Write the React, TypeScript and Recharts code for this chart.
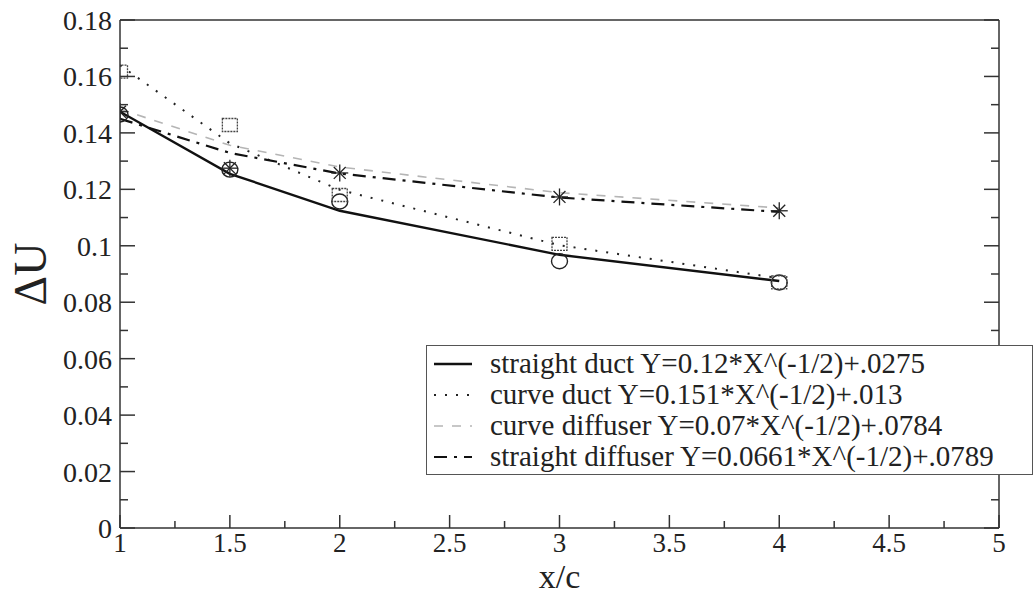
import React from 'react';
import { ComposedChart, Line, Scatter, XAxis, YAxis, Legend } from 'recharts';

// x/c stations
const stations = [1, 1.5, 2, 3, 4];

// fitted curves
const straightDuctFit = [0.1475, 0.1255, 0.1124, 0.0968, 0.0875];
const curveDuctFit = [0.164, 0.1363, 0.1198, 0.1002, 0.0885];
const curveDiffuserFit = [0.1484, 0.1356, 0.1279, 0.1188, 0.1134];
const straightDiffuserFit = [0.145, 0.1329, 0.1256, 0.1171, 0.112];

// measured points
const straightDuctPoints = [0.1465, 0.127, 0.1157, 0.0945, 0.087];
const curveDuctPoints = [0.1617, 0.1428, 0.118, 0.1007, 0.087];
const straightDiffuserPoints = [0.1475, 0.1275, 0.1258, 0.1173, 0.1124];

const seriesNames = [
  'straight duct Y=0.12*X^(-1/2)+.0275',
  'curve duct Y=0.151*X^(-1/2)+.013',
  'curve diffuser Y=0.07*X^(-1/2)+.0784',
  'straight diffuser Y=0.0661*X^(-1/2)+.0789',
];

const xTicks = [1, 1.25, 1.5, 1.75, 2, 2.25, 2.5, 2.75, 3, 3.25, 3.5, 3.75, 4, 4.25, 4.5, 4.75, 5];
const xMajor = [1, 1.5, 2, 2.5, 3, 3.5, 4, 4.5, 5];
const yTicks = [0, 0.01, 0.02, 0.03, 0.04, 0.05, 0.06, 0.07, 0.08, 0.09, 0.1, 0.11, 0.12, 0.13, 0.14, 0.15, 0.16, 0.17, 0.18];
const yMajor = [0, 0.02, 0.04, 0.06, 0.08, 0.1, 0.12, 0.14, 0.16, 0.18];

const SERIF = '"Liberation Serif", "Times New Roman", "DejaVu Serif", serif';
const AXIS = '#333';

const lineStyles = [
  { stroke: '#111', strokeWidth: 2.4, dash: undefined as string | undefined },
  { stroke: '#222', strokeWidth: 2, dash: '2 9' },
  { stroke: '#b5b5b5', strokeWidth: 1.6, dash: '9 9' },
  { stroke: '#111', strokeWidth: 2.2, dash: '13 7 3 7' },
];

const toXY = (ys: number[]) => stations.map((x, i) => ({ x, y: ys[i] }));

const BottomTick = (props: any) => {
  const { x, y, payload } = props;
  const major = xMajor.includes(payload.value);
  return (
    <g>
      <line x1={x} x2={x} y1={y} y2={y - (major ? 13 : 7)} stroke={AXIS} strokeWidth={1.5} />
      {major && (
        <text x={x} y={y + 24} textAnchor="middle" fontSize={27} fontFamily={SERIF} fill="#222">
          {payload.value}
        </text>
      )}
    </g>
  );
};

const TopTick = (props: any) => {
  const { x, y, payload } = props;
  const major = xMajor.includes(payload.value);
  return <line x1={x} x2={x} y1={y} y2={y + (major ? 15 : 8)} stroke={AXIS} strokeWidth={1.5} />;
};

const LeftTick = (props: any) => {
  const { x, y, payload } = props;
  const major = yMajor.includes(payload.value);
  return (
    <g>
      <line x1={x} x2={x + (major ? 15 : 8)} y1={y} y2={y} stroke={AXIS} strokeWidth={1.5} />
      {major && (
        <text x={x - 8} y={y + 10} textAnchor="end" fontSize={28} fontFamily={SERIF} fill="#222">
          {String(Number(payload.value.toFixed(2)))}
        </text>
      )}
    </g>
  );
};

const RightTick = (props: any) => {
  const { x, y, payload } = props;
  const major = yMajor.includes(payload.value);
  return <line x1={x} x2={x - (major ? 15 : 8)} y1={y} y2={y} stroke={AXIS} strokeWidth={1.5} />;
};

const Circle = (props: any) => (
  <ellipse cx={props.cx} cy={props.cy} rx={8} ry={7.5} fill="none" stroke="#222" strokeWidth={1.4} />
);

const Square = (props: any) => (
  <rect x={props.cx - 7.5} y={props.cy - 6.5} width={15} height={13} fill="none" stroke="#444" strokeWidth={1.3} strokeDasharray="2 1" />
);

const Star = (props: any) => {
  const { cx, cy } = props;
  const r = 8.5;
  const d = r * 0.7;
  return (
    <g stroke="#222" strokeWidth={1.3}>
      <line x1={cx - r} x2={cx + r} y1={cy} y2={cy} />
      <line x1={cx} x2={cx} y1={cy - r} y2={cy + r} />
      <line x1={cx - d} x2={cx + d} y1={cy - d} y2={cy + d} />
      <line x1={cx - d} x2={cx + d} y1={cy + d} y2={cy - d} />
    </g>
  );
};

const LegendBox = () => (
  <div
    style={{
      border: '1.5px solid #555',
      background: '#fff',
      padding: '2px 0 2px 6px',
      fontFamily: SERIF,
      fontSize: 29,
      lineHeight: 1,
      color: '#222',
      boxSizing: 'border-box',
    }}
  >
    {seriesNames.map((name, i) => {
      const s = lineStyles[i];
      return (
        <div key={name} style={{ display: 'flex', alignItems: 'center', height: 31, whiteSpace: 'nowrap' }}>
          <svg width={40} height={12} style={{ marginRight: 17, flexShrink: 0 }}>
            <line x1={1} x2={39} y1={6} y2={6} stroke={s.stroke} strokeWidth={s.strokeWidth} strokeDasharray={s.dash} />
          </svg>
          <span>{name}</span>
        </div>
      );
    })}
  </div>
);

export default function App() {
  const fits = [straightDuctFit, curveDuctFit, curveDiffuserFit, straightDiffuserFit];
  return (
    <div style={{ position: 'absolute', left: 0, top: 0, width: 1034, height: 598, background: '#fff' }}>
      <ComposedChart width={1034} height={598} margin={{ top: 10, right: 30, bottom: 0, left: 0 }}>
        <XAxis
          dataKey="x"
          type="number"
          domain={[1, 5]}
          ticks={xTicks}
          interval={0}
          tickSize={0}
          tickMargin={0}
          tick={<BottomTick />}
          height={70}
          axisLine={{ stroke: AXIS, strokeWidth: 1.5 }}
          allowDataOverflow
          label={{ value: 'x/c', position: 'insideBottom', offset: 10, style: { fontSize: 34, fontFamily: SERIF, fill: '#222' } }}
        />
        <XAxis
          xAxisId="top"
          orientation="top"
          type="number"
          domain={[1, 5]}
          ticks={xTicks}
          interval={0}
          tickSize={0}
          tickMargin={0}
          tick={<TopTick />}
          height={10}
          axisLine={{ stroke: AXIS, strokeWidth: 1.5 }}
          allowDataOverflow
        />
        <YAxis
          type="number"
          domain={[0, 0.18]}
          ticks={yTicks}
          interval={0}
          tickSize={0}
          tickMargin={0}
          tick={<LeftTick />}
          width={120}
          axisLine={{ stroke: AXIS, strokeWidth: 1.5 }}
          allowDataOverflow
          label={{
            content: ({ viewBox }: any) => (
              <text
                x={30}
                y={viewBox.y + viewBox.height / 2}
                transform={`rotate(-90 30 ${viewBox.y + viewBox.height / 2})`}
                textAnchor="middle"
                dominantBaseline="central"
                fontSize={46}
                fontFamily={SERIF}
                fill="#222"
              >
                ΔU
              </text>
            ),
          }}
        />
        <YAxis
          yAxisId="right"
          orientation="right"
          type="number"
          domain={[0, 0.18]}
          ticks={yTicks}
          interval={0}
          tickSize={0}
          tickMargin={0}
          tick={<RightTick />}
          width={5}
          axisLine={{ stroke: AXIS, strokeWidth: 1.5 }}
          allowDataOverflow
        />
        {fits.map((ys, i) => (
          <Line
            key={seriesNames[i]}
            data={toXY(ys)}
            dataKey="y"
            name={seriesNames[i]}
            type="linear"
            stroke={lineStyles[i].stroke}
            strokeWidth={lineStyles[i].strokeWidth}
            strokeDasharray={lineStyles[i].dash}
            dot={false}
            activeDot={false}
            isAnimationActive={false}
          />
        ))}
        <Scatter data={toXY(straightDuctPoints)} dataKey="y" shape={<Circle />} isAnimationActive={false} legendType="none" />
        <Scatter data={toXY(curveDuctPoints)} dataKey="y" shape={<Square />} isAnimationActive={false} legendType="none" />
        <Scatter data={toXY(straightDiffuserPoints)} dataKey="y" shape={<Star />} isAnimationActive={false} legendType="none" />
        <Legend
          layout="horizontal"
          verticalAlign="middle"
          align="center"
          content={<LegendBox />}
          wrapperStyle={{ left: 426, top: 345, width: 607, height: 'auto' }}
        />
      </ComposedChart>
    </div>
  );
}
